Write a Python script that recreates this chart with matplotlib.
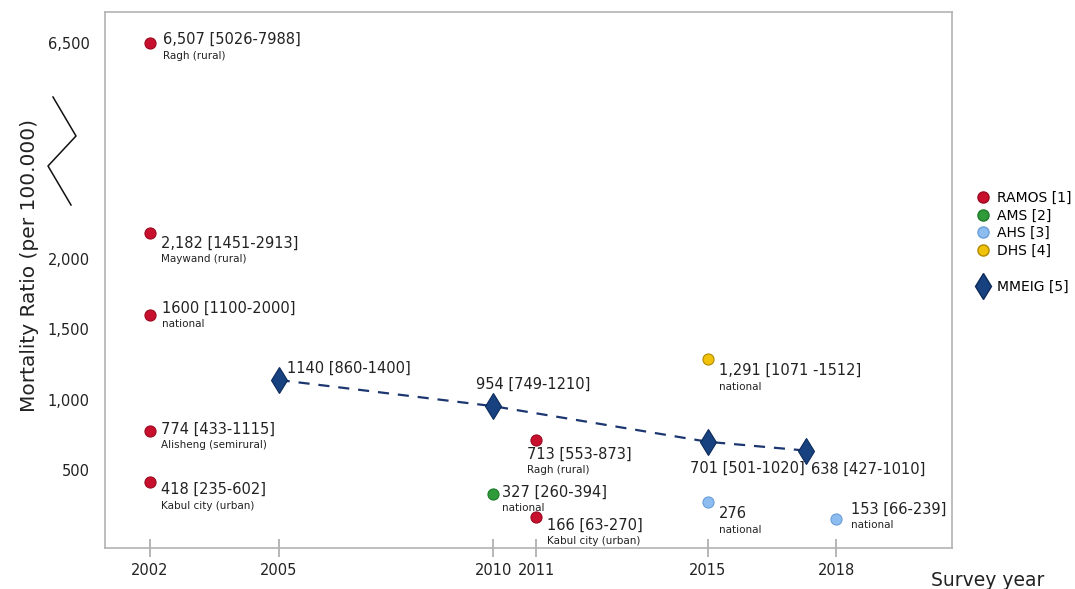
import numpy as np
import matplotlib
matplotlib.use('Agg')
import matplotlib.pyplot as plt
from matplotlib.lines import Line2D

plt.rcParams['font.family'] = ['DejaVu Sans']

# Survey data (year, maternal mortality ratio, label, sub-label)
ramos_years = [2002, 2002, 2002, 2002, 2002, 2011, 2011]
ramos_values = [6507, 2182, 1600, 774, 418, 713, 166]
ramos_labels = ['6,507 [5026-7988]', '2,182 [1451-2913]', '1600 [1100-2000]',
                '774 [433-1115]', '418 [235-602]', '713 [553-873]', '166 [63-270]']
ramos_sub = ['Ragh (rural)', 'Maywand (rural)', 'national', 'Alisheng (semirural)',
             'Kabul city (urban)', 'Ragh (rural)', 'Kabul city (urban)']

ams_years = [2010]
ams_values = [327]
ams_labels = ['327 [260-394]']
ams_sub = ['national']

ahs_years = [2015, 2018]
ahs_values = [276, 153]
ahs_labels = ['276', '153 [66-239]']
ahs_sub = ['national', 'national']

dhs_years = [2015]
dhs_values = [1291]
dhs_labels = ['1,291 [1071 -1512]']
dhs_sub = ['national']

mmeig_years = [2005, 2010, 2015, 2017.3]
mmeig_values = [1140, 954, 701, 638]
mmeig_labels = ['1140 [860-1400]', '954 [749-1210]', '701 [501-1020]', '638 [427-1010]']

year_ticks = [2002, 2005, 2010, 2011, 2015, 2018]
value_ticks = [500, 1000, 1500, 2000, 6500]
value_tick_labels = ['500', '1,000', '1,500', '2,000', '6,500']

# label offsets in pixels (main text), sub-label sits under it
ramos_off = [(13, 3), (11, -10), (12, 7), (11, 2), (11, -8), (-9, -14), (11, -8)]
ams_off = [(9, 2)]
ahs_off = [(11, -12), (15, 10)]
dhs_off = [(11, -12)]
mmeig_off = [(8, 12), (-17, 22), (-18, -27), (5, -19)]

# broken axis: compress everything above the break
brk, comp = 2400, 0.2768


def fwd(y):
    y = np.asarray(y, dtype=float)
    return np.where(y <= brk, y, brk + (y - brk) * comp)


def inv(y):
    y = np.asarray(y, dtype=float)
    return np.where(y <= brk, y, brk + (y - brk) / comp)


fig = plt.figure(figsize=(10.75, 5.89), dpi=100)
ax = fig.add_axes([105 / 1075, 41 / 589, 847 / 1075, 536 / 589])
ax.set_yscale('function', functions=(fwd, inv))
ax.set_xlim(2000.95, 2020.7)
ax.set_ylim(-54, 7295)

red, green, lblue, yellow, navy = '#c8102e', '#2f9a3a', '#8dbdf0', '#f0c20a', '#17427f'
circ = dict(marker='o', ms=8, linestyle='none', zorder=3)

ax.plot(mmeig_years, mmeig_values, linestyle=(0, (5, 4)), color='#1c3670', lw=1.6, zorder=2)
ax.plot(mmeig_years, mmeig_values, marker='d', ms=13, linestyle='none', color=navy,
        mec='#0c2a5a', mew=0.8, zorder=3)
ax.plot(ramos_years, ramos_values, color=red, mec='#9a0a20', mew=0.8, **circ)
ax.plot(ams_years, ams_values, color=green, mec='#1f7a2a', mew=0.8, **circ)
ax.plot(ahs_years, ahs_values, color=lblue, mec='#6a9fd8', mew=0.8, **circ)
ax.plot(dhs_years, dhs_values, color=yellow, mec='#b08a00', mew=0.8, **circ)


def add_labels(xs, ys, labels, subs, offs):
    for i, (x, y, lab) in enumerate(zip(xs, ys, labels)):
        dx, dy = offs[i]
        ax.annotate(lab, (x, y), xytext=(dx, dy), textcoords='offset pixels',
                    fontsize=10.5, color='#222222', va='center', ha='left')
        if subs is not None:
            ax.annotate(subs[i], (x, y), xytext=(dx, dy - 16), textcoords='offset pixels',
                        fontsize=7.5, color='#222222', va='center', ha='left')


add_labels(ramos_years, ramos_values, ramos_labels, ramos_sub, ramos_off)
add_labels(ams_years, ams_values, ams_labels, ams_sub, ams_off)
add_labels(ahs_years, ahs_values, ahs_labels, ahs_sub, ahs_off)
add_labels(dhs_years, dhs_values, dhs_labels, dhs_sub, dhs_off)
add_labels(mmeig_years, mmeig_values, mmeig_labels, None, mmeig_off)

ax.set_xticks(year_ticks)
ax.set_xticklabels([str(y) for y in year_ticks])
ax.set_yticks(value_ticks)
ax.set_yticklabels(value_tick_labels)
ax.minorticks_off()
ax.tick_params(axis='x', direction='inout', length=13, width=1.2, color='#aaaaaa',
               labelsize=10.5, labelcolor='#222222', pad=4)
ax.tick_params(axis='y', length=0, labelsize=10.5, labelcolor='#222222', pad=11)
for s in ax.spines.values():
    s.set_color('#b3b3b3')
    s.set_linewidth(1.2)

fig.text(30 / 1075, 1 - 265 / 589, 'Mortality Ratio (per 100.000)', rotation=90,
         fontsize=14.5, color='#222222', ha='center', va='center')
fig.text(931 / 1075, 1 - 581 / 589, 'Survey year', fontsize=13.5, color='#222222',
         ha='left', va='center')

# zigzag break mark on the y axis
zx = np.array([53, 76, 48, 71]) / 1075
zy = 1 - np.array([97, 136, 166, 205]) / 589
fig.add_artist(Line2D(zx, zy, color='#111111', lw=1.1))

handles = [
    Line2D([], [], marker='o', ms=8, ls='none', color=red, mec='#9a0a20'),
    Line2D([], [], marker='o', ms=8, ls='none', color=green, mec='#1f7a2a'),
    Line2D([], [], marker='o', ms=8, ls='none', color=lblue, mec='#6a9fd8'),
    Line2D([], [], marker='o', ms=8, ls='none', color=yellow, mec='#b08a00'),
    Line2D([], [], ls='none'),
    Line2D([], [], marker='d', ms=13, ls='none', color=navy, mec='#0c2a5a'),
]
names = ['RAMOS [1]', 'AMS [2]', 'AHS [3]', 'DHS [4]', '', 'MMEIG [5]']
fig.legend(handles, names, loc='upper left', bbox_to_anchor=(972 / 1075, 1 - 185 / 589),
           frameon=False, fontsize=10, handlelength=0.8, handletextpad=0.6,
           labelspacing=0.28, borderaxespad=0)

fig.savefig('out.png', dpi=100)
